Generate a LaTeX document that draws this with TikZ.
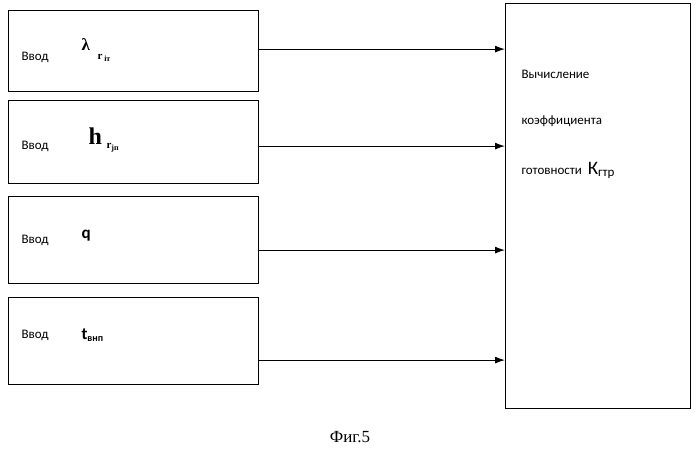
\documentclass[tikz,border=0pt]{standalone}
\usepackage{amsmath}
\usepackage{fontspec}
\setmainfont{Carlito}
\newfontfamily\capfont{Liberation Serif}
\usetikzlibrary{arrows.meta}
\begin{document}
\begin{tikzpicture}[x=1pt,y=1pt,yscale=-1,
  inbox/.style={draw,line width=1.2pt,minimum width=250pt,inner sep=0pt,anchor=north west},
  lbl/.style={anchor=west,font=\fontsize{13}{15}\selectfont},
  sym/.style={anchor=west,font=\fontsize{17}{19}\selectfont\bfseries},
  feed/.style={-{Latex[length=10pt,width=7pt]},line width=1.1pt}]
\useasboundingbox (0,0) rectangle (699,450);

%Input boxes
\node [inbox,minimum height=81pt] (inL) at (8,10) {};
\node [inbox,minimum height=83pt] (inH) at (8,100) {};
\node [inbox,minimum height=87pt] (inQ) at (8,196) {};
\node [inbox,minimum height=87pt] (inT) at (8,297) {};
%Calculation box
\node [draw,line width=1.2pt,minimum width=185pt,minimum height=405pt,inner sep=0pt,anchor=north west] (calc) at (505,3) {};

% Text Node
\draw (18,57) node [lbl] {Ввод};
\draw (78,45) node [sym] {\capfont λ};
\draw (94,58) node [anchor=west,font=\fontsize{11}{12}\selectfont\bfseries] {\capfont r\,\raisebox{-2pt}{\fontsize{8}{9}\selectfont iт}};
\draw (18,146) node [lbl] {Ввод};
\draw (85,136) node [anchor=west,font=\fontsize{24}{26}\selectfont\bfseries] {\capfont h};
\draw (103,148) node [anchor=west,font=\fontsize{11}{12}\selectfont\bfseries] {\capfont r\raisebox{-2pt}{\fontsize{8}{9}\selectfont jп}};
\draw (18,240) node [lbl] {Ввод};
\draw (78,236) node [sym] {q};
\draw (18,335) node [lbl] {Ввод};
\draw (78,335) node [sym] {t\raisebox{-2pt}{\fontsize{10}{11}\selectfont внп}};
\draw (518,74) node [lbl] {Вычисление};
\draw (518,121) node [lbl] {коэффициента};
\draw (518,170) node [lbl] {готовности \ {\fontsize{19}{21}\selectfont К}\raisebox{-2pt}{гтр}};
\draw (350,437) node {\capfont\fontsize{17}{19}\selectfont Фиг.5};

%Arrows
\draw [feed] ([yshift=-2pt]inL.east) -- ([yshift=-2pt]inL.east -| calc.west);
\draw [feed] ([yshift=4pt]inH.east) -- ([yshift=4pt]inH.east -| calc.west);
\draw [feed] ([yshift=10pt]inQ.east) -- ([yshift=10pt]inQ.east -| calc.west);
\draw [feed] ([yshift=19pt]inT.east) -- ([yshift=19pt]inT.east -| calc.west);

\end{tikzpicture}
\end{document}
